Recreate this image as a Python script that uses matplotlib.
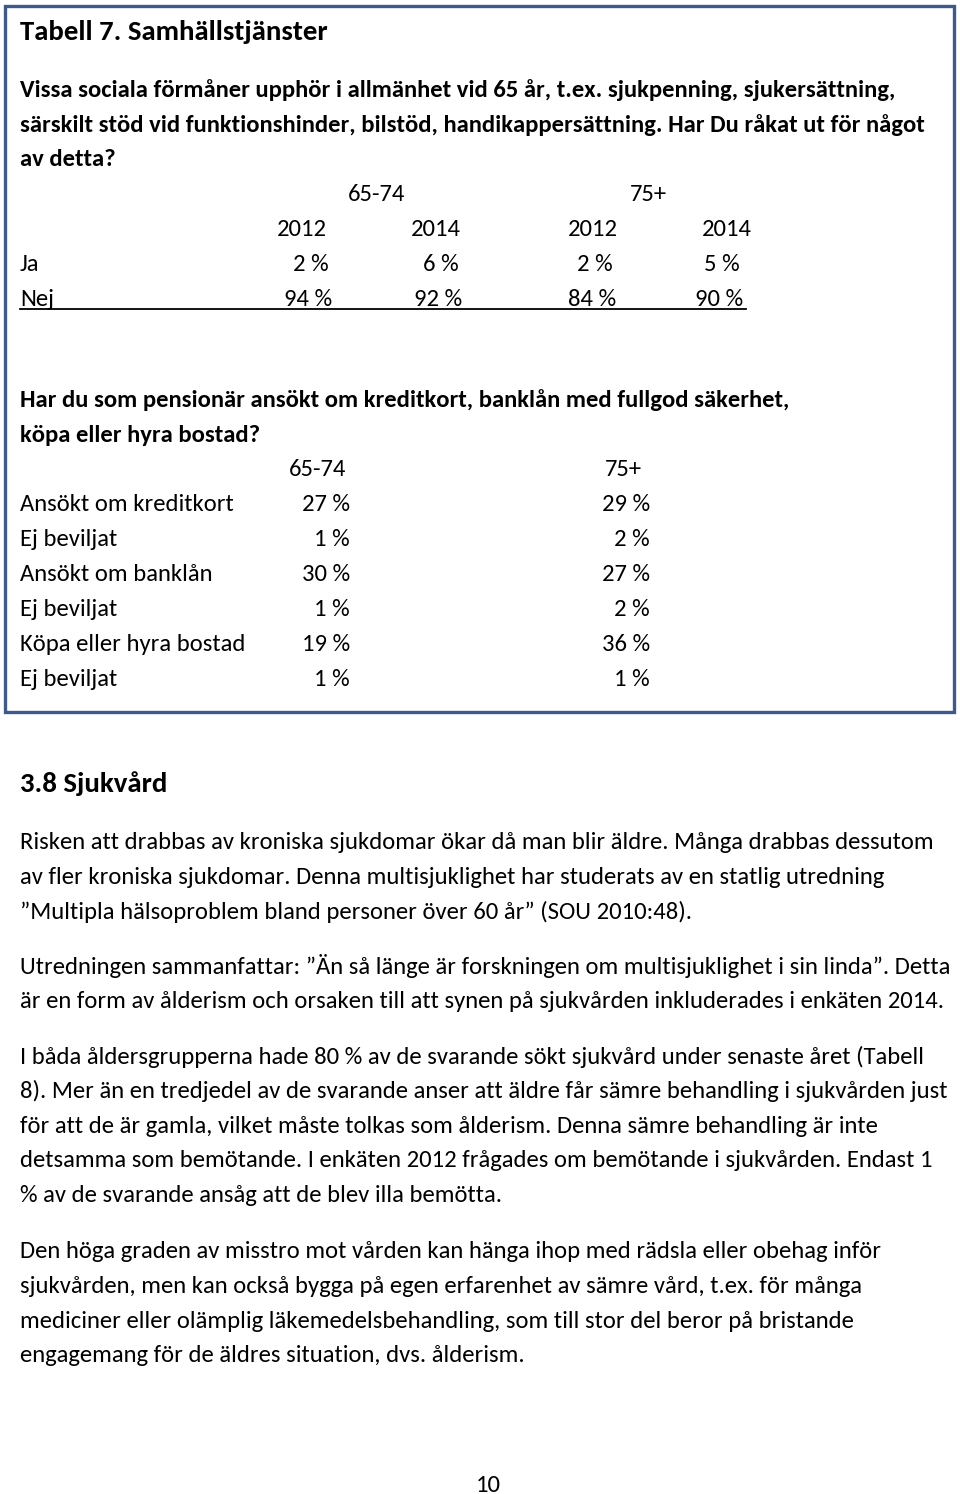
import matplotlib
matplotlib.use("Agg")
import matplotlib.pyplot as plt
from matplotlib import font_manager
from matplotlib.patches import Rectangle

# --- table 1: social benefits ---
t1_title = "Tabell 7. Samhällstjänster"
t1_question = [
    "Vissa sociala förmåner upphör i allmänhet vid 65 år, t.ex. sjukpenning, sjukersättning,",
    "särskilt stöd vid funktionshinder, bilstöd, handikappersättning. Har Du råkat ut för något",
    "av detta?",
]
t1_groups = ["65-74", "75+"]
t1_years = ["2012", "2014", "2012", "2014"]
t1_rows = ["Ja", "Nej"]
t1_ja = [2, 6, 2, 5]
t1_nej = [94, 92, 84, 90]

# --- table 2: credit / loans ---
t2_question = [
    "Har du som pensionär ansökt om kreditkort, banklån med fullgod säkerhet,",
    "köpa eller hyra bostad?",
]
t2_groups = ["65-74", "75+"]
t2_rows = ["Ansökt om kreditkort", "Ej beviljat", "Ansökt om banklån",
           "Ej beviljat", "Köpa eller hyra bostad", "Ej beviljat"]
t2_young = [27, 1, 30, 1, 19, 1]
t2_old = [29, 2, 27, 2, 36, 1]

# --- body text ---
heading = "3.8 Sjukvård"
paragraphs = [
    ["Risken att drabbas av kroniska sjukdomar ökar då man blir äldre. Många drabbas dessutom",
     "av fler kroniska sjukdomar. Denna multisjuklighet har studerats av en statlig utredning",
     "\u201dMultipla hälsoproblem bland personer över 60 år\u201d (SOU 2010:48)."],
    ["Utredningen sammanfattar: \u201dÄn så länge är forskningen om multisjuklighet i sin linda\u201d. Detta",
     "är en form av ålderism och orsaken till att synen på sjukvården inkluderades i enkäten 2014."],
    ["I båda åldersgrupperna hade 80 % av de svarande sökt sjukvård under senaste året (Tabell",
     "8). Mer än en tredjedel av de svarande anser att äldre får sämre behandling i sjukvården just",
     "för att de är gamla, vilket måste tolkas som ålderism. Denna sämre behandling är inte",
     "detsamma som bemötande. I enkäten 2012 frågades om bemötande i sjukvården. Endast 1",
     "% av de svarande ansåg att de blev illa bemötta."],
    ["Den höga graden av misstro mot vården kan hänga ihop med rädsla eller obehag inför",
     "sjukvården, men kan också bygga på egen erfarenhet av sämre vård, t.ex. för många",
     "mediciner eller olämplig läkemedelsbehandling, som till stor del beror på bristande",
     "engagemang för de äldres situation, dvs. ålderism."],
]
page_no = "10"

installed = {f.name for f in font_manager.fontManager.ttflist}
family = "Lato"
for cand in ["Carlito", "Liberation Sans Narrow", "Lato"]:
    if cand in installed:
        family = cand
        break

W, H = 960, 1494
fig = plt.figure(figsize=(W / 100, H / 100), dpi=100)
ax = fig.add_axes([0, 0, 1, 1])
ax.set_xlim(0, W)
ax.set_ylim(H, 0)
ax.axis("off")
renderer = fig.canvas.get_renderer()


def fit_size(sample, target, weight="normal", base=14.0):
    t = ax.text(0, 0, sample, fontsize=base, family=family, fontweight=weight)
    w = t.get_window_extent(renderer).width
    t.remove()
    return base * target / w


body_fs = fit_size(paragraphs[0][0], 916)
bold_fs = fit_size(t1_question[0], 879, "bold")
title_fs = fit_size(t1_title, 308, "bold")
head_fs = fit_size(heading, 148, "bold")

DY = 1.5  # small baseline nudge


def put(x, y, s, fs=None, ha="left", weight="normal"):
    ax.text(x, y + DY, s, fontsize=fs or body_fs, family=family, fontweight=weight,
            ha=ha, va="center", color="black")


# frame around the table block
ax.add_patch(Rectangle((5, 6), 949, 706, fill=False, edgecolor="#3e5a8c", linewidth=2.4))

put(20, 30, t1_title, title_fs, weight="bold")
for i, line in enumerate(t1_question):
    put(20, 89 + i * 34.7, line, bold_fs, weight="bold")

put(377, 193, t1_groups[0], ha="center")
put(648, 193, t1_groups[1], ha="center")
col_x = [302, 436, 593, 727]
val_right = [329, 459, 613, 740]
for x, yr in zip(col_x, t1_years):
    put(x, 228, yr, ha="center")
put(20, 263, t1_rows[0])
put(20, 298, t1_rows[1])
for xr, a, b in zip(val_right, t1_ja, t1_nej):
    put(xr, 263, f"{a} %", ha="right")
    put(xr + 3, 298, f"{b} %", ha="right")
ax.plot([20, 746], [309, 309], color="black", linewidth=1.3)

for i, line in enumerate(t2_question):
    put(20, 399 + i * 35, line, bold_fs, weight="bold")
put(318, 468, t2_groups[0], ha="center")
put(623, 468, t2_groups[1], ha="center")
for i, (lab, a, b) in enumerate(zip(t2_rows, t2_young, t2_old)):
    y = 503 + i * 35
    put(20, y, lab)
    put(350, y, f"{a} %", ha="right")
    put(650, y, f"{b} %", ha="right")

put(20, 782, heading, head_fs, weight="bold")
starts = [841, 965, 1055, 1250]
for y0, para in zip(starts, paragraphs):
    for j, line in enumerate(para):
        put(20, y0 + j * 34.8, line)

put(488, 1484, page_no, ha="center")

fig.savefig("out.png", dpi=100, facecolor="white")
